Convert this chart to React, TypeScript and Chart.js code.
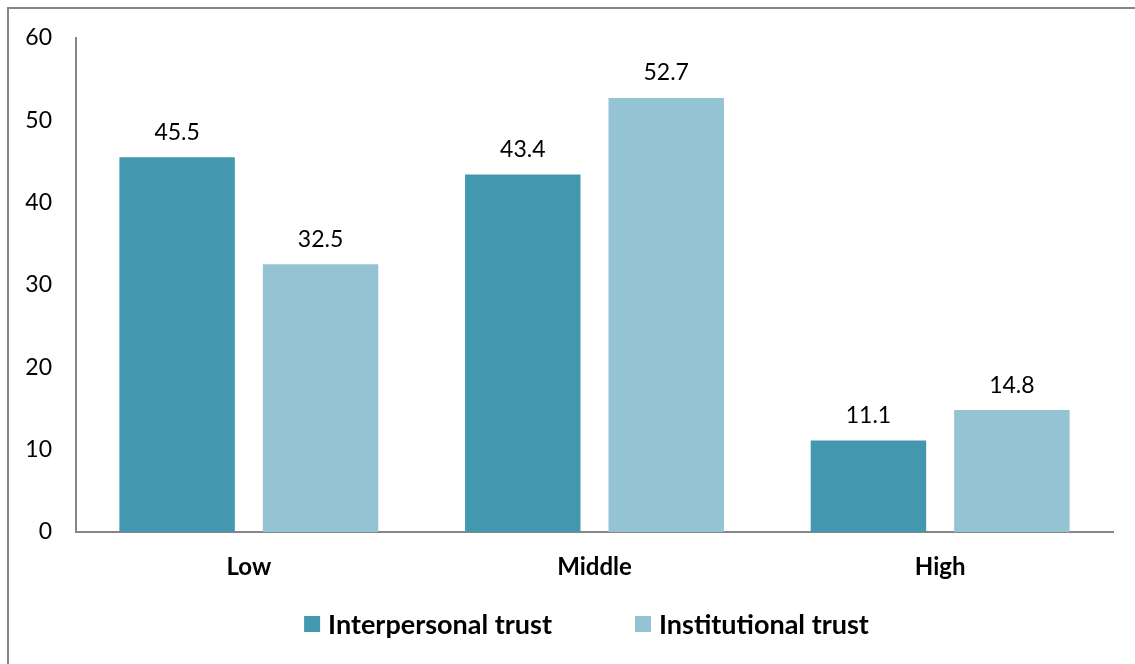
import React, { useEffect, useRef } from "react";
import { Chart, registerables } from "chart.js";

Chart.register(...registerables);

const categories = ["Low", "Middle", "High"];
const seriesNames = ["Interpersonal trust", "Institutional trust"];
const interpersonal = [45.5, 43.4, 11.1];
const institutional = [32.5, 52.7, 14.8];
const yTicks = [0, 10, 20, 30, 40, 50, 60];

const DARK = "#4398B0";
const LIGHT = "#94C3D4";
const AXIS = "#868686";
const FONT = "Lato, 'Noto Sans', sans-serif";

const valueLabels = {
  id: "valueLabels",
  afterDatasetsDraw(chart: any) {
    const ctx = chart.ctx;
    ctx.save();
    ctx.font = `23px ${FONT}`;
    ctx.fillStyle = "#000";
    ctx.textAlign = "center";
    ctx.textBaseline = "middle";
    chart.data.datasets.forEach((ds: any, di: number) => {
      const meta = chart.getDatasetMeta(di);
      meta.data.forEach((bar: any, i: number) => {
        ctx.fillText(String(ds.data[i].toFixed(1)), bar.x, bar.y - 25);
      });
    });
    ctx.restore();
  },
};

const customLegend = {
  id: "customLegend",
  afterDraw(chart: any) {
    const ctx = chart.ctx;
    ctx.save();
    ctx.font = `bold 27px ${FONT}`;
    ctx.textBaseline = "middle";
    const box = 16;
    const gap = 8;
    const between = 83;
    const items = chart.data.datasets.map((ds: any) => ({
      text: ds.label,
      color: ds.backgroundColor,
      w: box + gap + ctx.measureText(ds.label).width,
    }));
    const total = items.reduce((s: number, it: any) => s + it.w, 0) + between * (items.length - 1);
    const ca = chart.chartArea;
    let x = (ca.left + ca.right) / 2 - 8 - total / 2;
    const y = 624;
    items.forEach((it: any) => {
      ctx.fillStyle = it.color;
      ctx.fillRect(x, y - box / 2, box, box);
      ctx.fillStyle = "#000";
      ctx.textAlign = "left";
      ctx.fillText(it.text, x + box + gap, y + 1);
      x += it.w + between;
    });
    ctx.restore();
  },
};

export default function App() {
  const ref = useRef<HTMLCanvasElement | null>(null);

  useEffect(() => {
    if (!ref.current) return;
    const chart = new Chart(ref.current, {
      type: "bar",
      data: {
        labels: categories,
        datasets: [
          {
            label: seriesNames[0],
            data: interpersonal,
            backgroundColor: DARK,
            categoryPercentage: 0.83,
            barPercentage: 0.805,
          },
          {
            label: seriesNames[1],
            data: institutional,
            backgroundColor: LIGHT,
            categoryPercentage: 0.83,
            barPercentage: 0.805,
          },
        ],
      },
      options: {
        animation: false,
        responsive: false,
        maintainAspectRatio: false,
        layout: { padding: { top: 37, right: 22, bottom: 0, left: 0 } },
        plugins: {
          legend: { display: false },
          tooltip: { enabled: false },
        },
        scales: {
          x: {
            grid: { display: false, drawTicks: false },
            border: { display: true, color: AXIS, width: 2 },
            ticks: {
              color: "#000",
              padding: 21,
              font: { family: FONT, size: 24, weight: "bold" },
            },
            afterFit: (scale: any) => {
              scale.height = 132;
            },
          },
          y: {
            min: 0,
            max: 60,
            afterBuildTicks: (scale: any) => {
              scale.ticks = yTicks.map((v) => ({ value: v }));
            },
            grid: { display: false, drawTicks: false },
            border: { display: true, color: AXIS, width: 2 },
            ticks: {
              color: "#000",
              padding: 24,
              font: { family: FONT, size: 23 },
            },
            afterFit: (scale: any) => {
              scale.width = 76;
            },
          },
        },
      },
      plugins: [valueLabels, customLegend],
    });
    return () => chart.destroy();
  }, []);

  return (
    <div style={{ position: "fixed", left: 0, top: 0, width: 1135, height: 664, background: "#fff", overflow: "hidden" }}>
      <div
        style={{
          position: "absolute",
          left: 7,
          top: 7,
          width: 1200,
          height: 700,
          border: `2px solid ${AXIS}`,
          boxSizing: "border-box",
        }}
      />
      <canvas ref={ref} width={1135} height={664} style={{ position: "absolute", left: 0, top: 0, display: "block" }} />
    </div>
  );
}
